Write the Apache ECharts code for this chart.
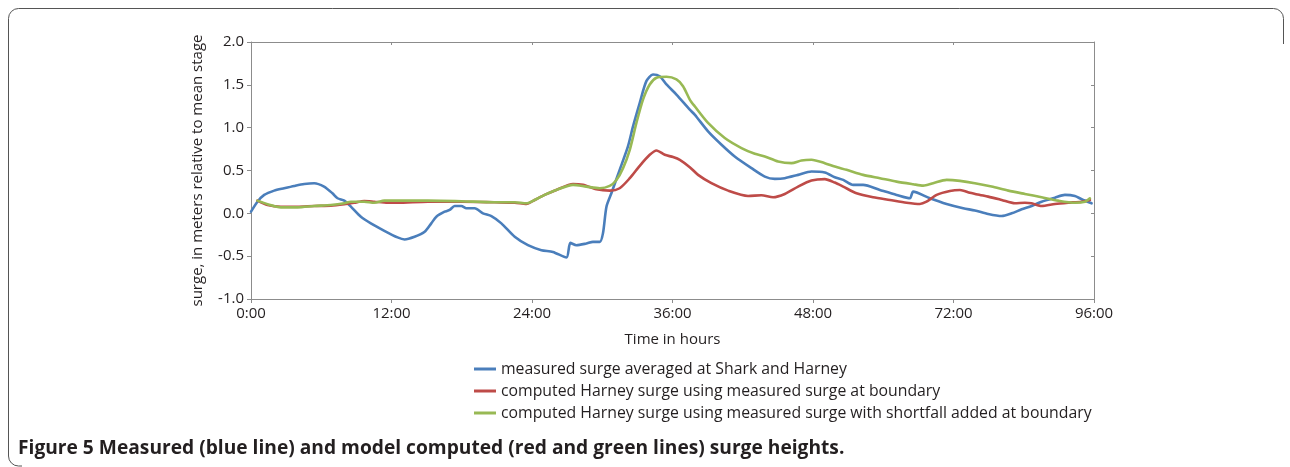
<!DOCTYPE html>
<html>
<head>
<meta charset="utf-8">
<script src="https://cdn.jsdelivr.net/npm/echarts@6/dist/echarts.min.js"></script>
<style>
  html, body { margin: 0; padding: 0; background: #ffffff; }
  #chart { width: 1290px; height: 467px; }
</style>
</head>
<body>
<div id="chart"></div>
<script>
// Time axis: positions are in tick steps (0..6), one label per tick.
const tickLabels = ['0:00', '12:00', '24:00', '36:00', '48:00', '72:00', '96:00'];

// Measured surge averaged at Shark and Harney (m)
const measuredPos = [0, 0.046, 0.094, 0.165, 0.236, 0.308, 0.379, 0.450, 0.520, 0.580, 0.616, 0.664, 0.711, 0.782, 0.853, 0.949, 1.043, 1.093, 1.164, 1.236, 1.283, 1.319, 1.378, 1.414, 1.449, 1.497, 1.533, 1.592, 1.651, 1.711, 1.782, 1.877, 1.971, 2.067, 2.149, 2.245, 2.273, 2.316, 2.387, 2.434, 2.482, 2.505, 2.530, 2.565, 2.624, 2.683, 2.719, 2.767, 2.814, 2.861, 2.909, 2.957, 3.028, 3.123, 3.158, 3.253, 3.349, 3.443, 3.562, 3.657, 3.728, 3.799, 3.894, 3.989, 4.084, 4.155, 4.215, 4.286, 4.357, 4.476, 4.595, 4.690, 4.713, 4.832, 4.951, 5.069, 5.152, 5.247, 5.343, 5.414, 5.485, 5.556, 5.627, 5.722, 5.793, 5.864, 5.912, 5.983];
const measuredSurge = [0.02, 0.136, 0.215, 0.265, 0.293, 0.320, 0.343, 0.352, 0.312, 0.234, 0.176, 0.148, 0.078, -0.040, -0.117, -0.204, -0.281, -0.305, -0.274, -0.216, -0.117, -0.040, 0.019, 0.039, 0.086, 0.086, 0.059, 0.059, 0.0, -0.032, -0.117, -0.274, -0.372, -0.430, -0.450, -0.516, -0.345, -0.372, -0.352, -0.333, -0.333, -0.234, 0.077, 0.234, 0.508, 0.781, 1.015, 1.290, 1.543, 1.621, 1.601, 1.504, 1.387, 1.211, 1.152, 0.957, 0.801, 0.664, 0.528, 0.429, 0.402, 0.410, 0.449, 0.488, 0.476, 0.422, 0.390, 0.332, 0.332, 0.273, 0.215, 0.176, 0.253, 0.176, 0.109, 0.059, 0.033, -0.008, -0.032, 0.0, 0.047, 0.086, 0.136, 0.183, 0.215, 0.203, 0.164, 0.117];

// Computed Harney surge using measured surge at boundary (m)
const boundaryPos = [0.046, 0.118, 0.212, 0.331, 0.450, 0.568, 0.664, 0.735, 0.806, 0.877, 0.972, 1.043, 1.259, 1.497, 1.734, 1.877, 1.960, 2.019, 2.090, 2.173, 2.292, 2.363, 2.458, 2.553, 2.624, 2.696, 2.767, 2.838, 2.886, 2.945, 3.004, 3.052, 3.123, 3.182, 3.277, 3.396, 3.538, 3.633, 3.716, 3.799, 3.894, 3.989, 4.084, 4.155, 4.215, 4.310, 4.428, 4.547, 4.666, 4.761, 4.808, 4.880, 4.974, 5.046, 5.117, 5.188, 5.247, 5.343, 5.437, 5.508, 5.556, 5.627, 5.722, 5.817, 5.912, 5.971];
const boundarySurge = [0.148, 0.097, 0.077, 0.077, 0.086, 0.089, 0.106, 0.124, 0.144, 0.136, 0.124, 0.124, 0.136, 0.136, 0.129, 0.124, 0.109, 0.156, 0.215, 0.273, 0.343, 0.332, 0.281, 0.265, 0.293, 0.410, 0.555, 0.683, 0.734, 0.683, 0.657, 0.625, 0.539, 0.449, 0.352, 0.265, 0.203, 0.211, 0.188, 0.226, 0.312, 0.382, 0.399, 0.359, 0.312, 0.234, 0.188, 0.156, 0.124, 0.109, 0.136, 0.215, 0.261, 0.273, 0.241, 0.215, 0.195, 0.156, 0.117, 0.124, 0.117, 0.086, 0.109, 0.124, 0.136, 0.156];

// Computed Harney surge using measured surge with shortfall added at boundary (m)
const shortfallPos = [0.046, 0.118, 0.212, 0.331, 0.450, 0.568, 0.664, 0.711, 0.806, 0.877, 0.949, 1.043, 1.259, 1.497, 1.734, 1.877, 1.960, 2.019, 2.090, 2.173, 2.292, 2.387, 2.482, 2.553, 2.601, 2.648, 2.696, 2.743, 2.790, 2.838, 2.886, 2.957, 3.028, 3.075, 3.123, 3.158, 3.253, 3.372, 3.491, 3.586, 3.657, 3.752, 3.847, 3.918, 3.989, 4.084, 4.155, 4.239, 4.357, 4.476, 4.595, 4.713, 4.784, 4.855, 4.951, 5.046, 5.152, 5.271, 5.390, 5.508, 5.627, 5.746, 5.864, 5.936, 5.971];
const shortfallSurge = [0.148, 0.106, 0.070, 0.070, 0.086, 0.097, 0.117, 0.136, 0.136, 0.124, 0.148, 0.148, 0.148, 0.141, 0.129, 0.129, 0.117, 0.156, 0.215, 0.273, 0.332, 0.312, 0.293, 0.320, 0.390, 0.528, 0.742, 1.055, 1.328, 1.504, 1.583, 1.594, 1.563, 1.484, 1.328, 1.250, 1.055, 0.879, 0.762, 0.695, 0.664, 0.605, 0.586, 0.617, 0.625, 0.586, 0.546, 0.508, 0.449, 0.410, 0.370, 0.340, 0.324, 0.352, 0.390, 0.379, 0.352, 0.312, 0.265, 0.226, 0.188, 0.148, 0.124, 0.136, 0.176];

const seriesNames = [
  'measured surge averaged at Shark and Harney',
  'computed Harney surge using measured surge at boundary',
  'computed Harney surge using measured surge with shortfall added at boundary'
];
const seriesColors = ['#4A7EBB', '#BE4B48', '#98B954'];

function pairs(xs, ys) {
  return xs.map((x, i) => [x, ys[i]]);
}

const FONT = '"Open Sans", "Liberation Sans", sans-serif';
const AXIS_GRAY = '#8c8c8c';
const TEXT = '#231f20';

const chart = echarts.init(document.getElementById('chart'), null, { renderer: 'canvas' });

const lineSeries = [
  pairs(measuredPos, measuredSurge),
  pairs(boundaryPos, boundarySurge),
  pairs(shortfallPos, shortfallSurge)
].map((data, i) => ({
  name: seriesNames[i],
  type: 'line',
  xAxisIndex: 0,
  yAxisIndex: 0,
  data: data,
  showSymbol: false,
  smooth: 0.25,
  lineStyle: { color: seriesColors[i], width: 2.6, cap: 'round', join: 'round' },
  itemStyle: { color: seriesColors[i] },
  z: 3 + i,
  animation: false
}));

chart.setOption({
  animation: false,
  backgroundColor: '#ffffff',
  textStyle: { fontFamily: FONT },
  grid: { left: 251, top: 42, width: 843, height: 257, containLabel: false },
  xAxis: [
    {
      type: 'value', min: 0, max: 6, interval: 1, position: 'bottom',
      name: 'Time in hours', nameLocation: 'middle', nameGap: 33,
      nameTextStyle: { color: TEXT, fontSize: 15, fontFamily: FONT },
      axisLine: { show: true, onZero: false, lineStyle: { color: AXIS_GRAY, width: 1 } },
      axisTick: { show: true, inside: false, length: 4, lineStyle: { color: AXIS_GRAY } },
      axisLabel: { color: TEXT, fontSize: 15, margin: 7, fontFamily: FONT,
        formatter: v => tickLabels[Math.round(v)] },
      splitLine: { show: false }
    },
    {
      type: 'value', min: 0, max: 6, interval: 1, position: 'top',
      axisLine: { show: true, onZero: false, lineStyle: { color: AXIS_GRAY, width: 1 } },
      axisTick: { show: true, inside: true, length: 3, lineStyle: { color: AXIS_GRAY } },
      axisLabel: { show: false },
      splitLine: { show: false }
    }
  ],
  yAxis: [
    {
      type: 'value', min: -1, max: 2, interval: 0.5, position: 'left',
      name: 'surge, in meters relative to mean stage', nameLocation: 'middle', nameGap: 46,
      nameRotate: 90,
      nameTextStyle: { color: TEXT, fontSize: 15, fontFamily: FONT },
      axisLine: { show: true, onZero: false, lineStyle: { color: AXIS_GRAY, width: 1 } },
      axisTick: { show: true, inside: false, length: 4, lineStyle: { color: AXIS_GRAY } },
      axisLabel: { color: TEXT, fontSize: 15, margin: 7, fontFamily: FONT,
        formatter: v => v.toFixed(1) },
      splitLine: { show: false }
    },
    {
      type: 'value', min: -1, max: 2, interval: 0.5, position: 'right',
      axisLine: { show: true, onZero: false, lineStyle: { color: AXIS_GRAY, width: 1 } },
      axisTick: { show: true, inside: true, length: 3, lineStyle: { color: AXIS_GRAY } },
      axisLabel: { show: false },
      splitLine: { show: false }
    }
  ],
  legend: {
    orient: 'vertical', left: 469, top: 356,
    itemWidth: 22, itemHeight: 3, itemGap: 6,
    icon: 'rect',
    textStyle: { color: TEXT, fontSize: 15.8, fontFamily: FONT },
    data: seriesNames
  },
  graphic: [
    {
      type: 'rect',
      shape: { x: 8.5, y: 8.5, width: 1275, height: 457.5, r: 10 },
      style: { fill: null, stroke: '#555555', lineWidth: 1 },
      silent: true
    },
    {
      // the frame is open on the right below the top corner and along the bottom
      type: 'rect',
      shape: { x: 1276, y: 44, width: 14, height: 423 },
      style: { fill: '#ffffff' },
      silent: true
    },
    {
      type: 'rect',
      shape: { x: 22, y: 462, width: 1268, height: 5 },
      style: { fill: '#ffffff' },
      silent: true
    },
    {
      type: 'text', left: 18, top: 439,
      style: {
        text: 'Figure 5 Measured (blue line) and model computed (red and green lines) surge heights.',
        font: 'bold 19.2px "Open Sans", "Liberation Sans", sans-serif',
        fill: TEXT
      },
      silent: true
    }
  ],
  series: lineSeries
});
</script>
</body>
</html>
